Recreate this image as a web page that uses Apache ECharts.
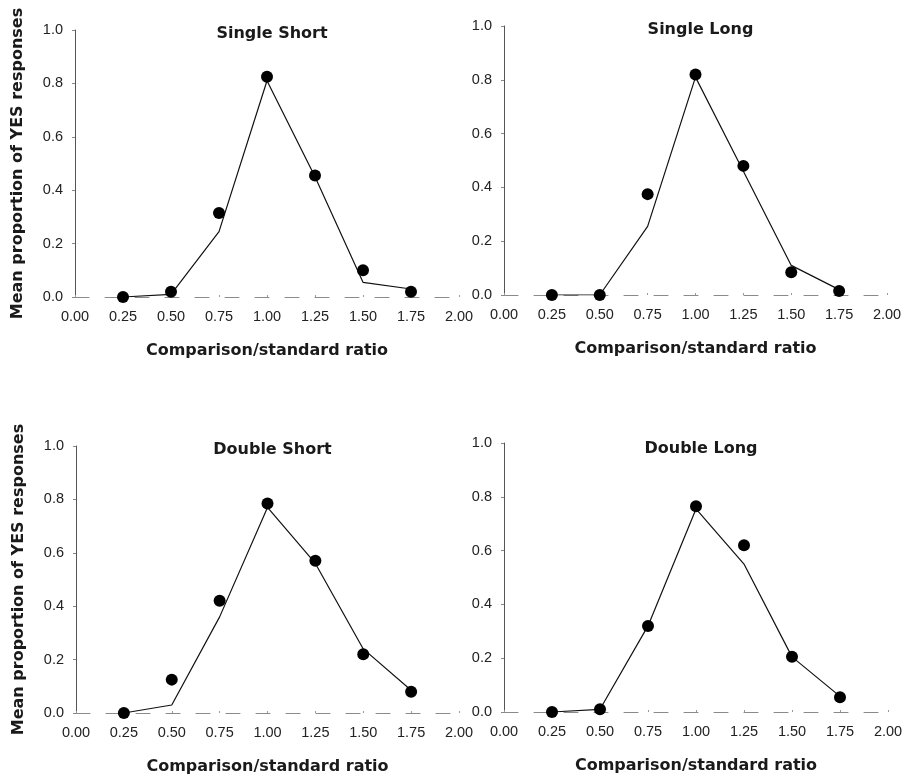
<!DOCTYPE html>
<html>
<head>
	<meta charset="UTF-8">
	<title></title>
	<script type="text/javascript" src="https://cdn.jsdelivr.net/npm/echarts@6/dist/echarts.min.js"></script>
	<style type="text/css">
		html,body{margin:0; padding:0; background:#fff;}
		#chart1{width:908px; height:780px;}
	</style>
</head>
<body>
	<div id="chart1"></div>
	<script type="text/javascript">
		// comparison/standard ratios (x)
		var ratios = [0.25, 0.50, 0.75, 1.00, 1.25, 1.50, 1.75];
		var xTicks = [0, 2, 0.25];   // min, max, interval
		var yTicks = [0, 1, 0.2];

		var panelTitles = ['Single Short', 'Single Long', 'Double Short', 'Double Long'];

		// observed (dots) and model (line)
		var singleShortObs   = [0.00, 0.02, 0.315, 0.825, 0.455, 0.10, 0.02];
		var singleShortModel = [0.00, 0.01, 0.245, 0.81, 0.45, 0.055, 0.03];
		var singleLongObs    = [0.00, 0.00, 0.375, 0.82, 0.48, 0.085, 0.015];
		var singleLongModel  = [0.00, 0.00, 0.255, 0.81, 0.46, 0.11, 0.02];
		var doubleShortObs   = [0.00, 0.125, 0.42, 0.785, 0.57, 0.22, 0.08];
		var doubleShortModel = [0.00, 0.03, 0.36, 0.77, 0.56, 0.24, 0.085];
		var doubleLongObs    = [0.00, 0.01, 0.32, 0.765, 0.62, 0.205, 0.055];
		var doubleLongModel  = [0.00, 0.01, 0.32, 0.755, 0.55, 0.205, 0.058];

		var obsList = [singleShortObs, singleLongObs, doubleShortObs, doubleLongObs];
		var modelList = [singleShortModel, singleLongModel, doubleShortModel, doubleLongModel];

		var yName = 'Mean proportion of YES responses';
		var xName = 'Comparison/standard ratio';

		var grids = [
			{left: 75, top: 30, width: 384, height: 267},
			{left: 504, top: 26, width: 383, height: 269},
			{left: 76, top: 446, width: 383, height: 267},
			{left: 504, top: 443, width: 384, height: 269}
		];
		var titleTops = [21, 17, 437, 436];

		function pairs(xs, ys){
			return xs.map(function(x, i){ return [x, ys[i]]; });
		}

		var font = 'DejaVu Sans';
		var tickFont = 'Liberation Sans';
		var option = {
			backgroundColor: '#fff',
			animation: false,
			title: [],
			grid: [],
			xAxis: [],
			yAxis: [],
			series: []
		};

		grids.forEach(function(g, i){
			option.grid.push(g);
			option.title.push({
				text: panelTitles[i],
				left: g.left + g.width / 2,
				top: titleTops[i],
				textAlign: 'center',
				textStyle: {fontFamily: font, fontSize: 16, fontWeight: 'bold', color: '#1a1a1a'}
			});
			option.xAxis.push({
				type: 'value',
				gridIndex: i,
				min: xTicks[0], max: xTicks[1], interval: xTicks[2],
				name: xName,
				nameLocation: 'middle',
				nameGap: 46,
				nameTextStyle: {fontFamily: font, fontSize: 16, fontWeight: 'bold', color: '#1a1a1a'},
				axisLine: {show: true, onZero: false, lineStyle: {color: '#8a8a8a', width: 1, type: [14, 16]}},
				axisTick: {show: true, inside: true, length: 2, lineStyle: {color: '#999'}},
				axisLabel: {margin: 12, fontFamily: tickFont, fontSize: 14.5, color: '#222',
					formatter: function(v){ return v.toFixed(2); }},
				splitLine: {show: false}
			});
			option.yAxis.push({
				type: 'value',
				gridIndex: i,
				min: yTicks[0], max: yTicks[1], interval: yTicks[2],
				name: (i % 2 === 0) ? yName : '',
				nameLocation: 'middle',
				nameGap: 49,
				nameTextStyle: {fontFamily: font, fontSize: 16, fontWeight: 'bold', color: '#1a1a1a'},
				axisLine: {show: true, lineStyle: {color: '#555', width: 1}},
				axisTick: {show: true, length: 3, lineStyle: {color: '#888'}},
				axisLabel: {margin: 12, fontFamily: tickFont, fontSize: 14.5, color: '#222',
					formatter: function(v){ return v.toFixed(1); }},
				splitLine: {show: false}
			});
			option.series.push({
				type: 'line',
				xAxisIndex: i, yAxisIndex: i,
				data: pairs(ratios, modelList[i]),
				showSymbol: false,
				symbol: 'none',
				lineStyle: {color: '#111', width: 1.2},
				z: 2
			});
			option.series.push({
				type: 'scatter',
				xAxisIndex: i, yAxisIndex: i,
				data: pairs(ratios, obsList[i]),
				symbol: 'circle',
				symbolSize: 12,
				itemStyle: {color: '#000', opacity: 1},
				z: 3
			});
		});

		var myChart = echarts.init(document.getElementById('chart1'));
		myChart.setOption(option);
	</script>
</body>
</html>
